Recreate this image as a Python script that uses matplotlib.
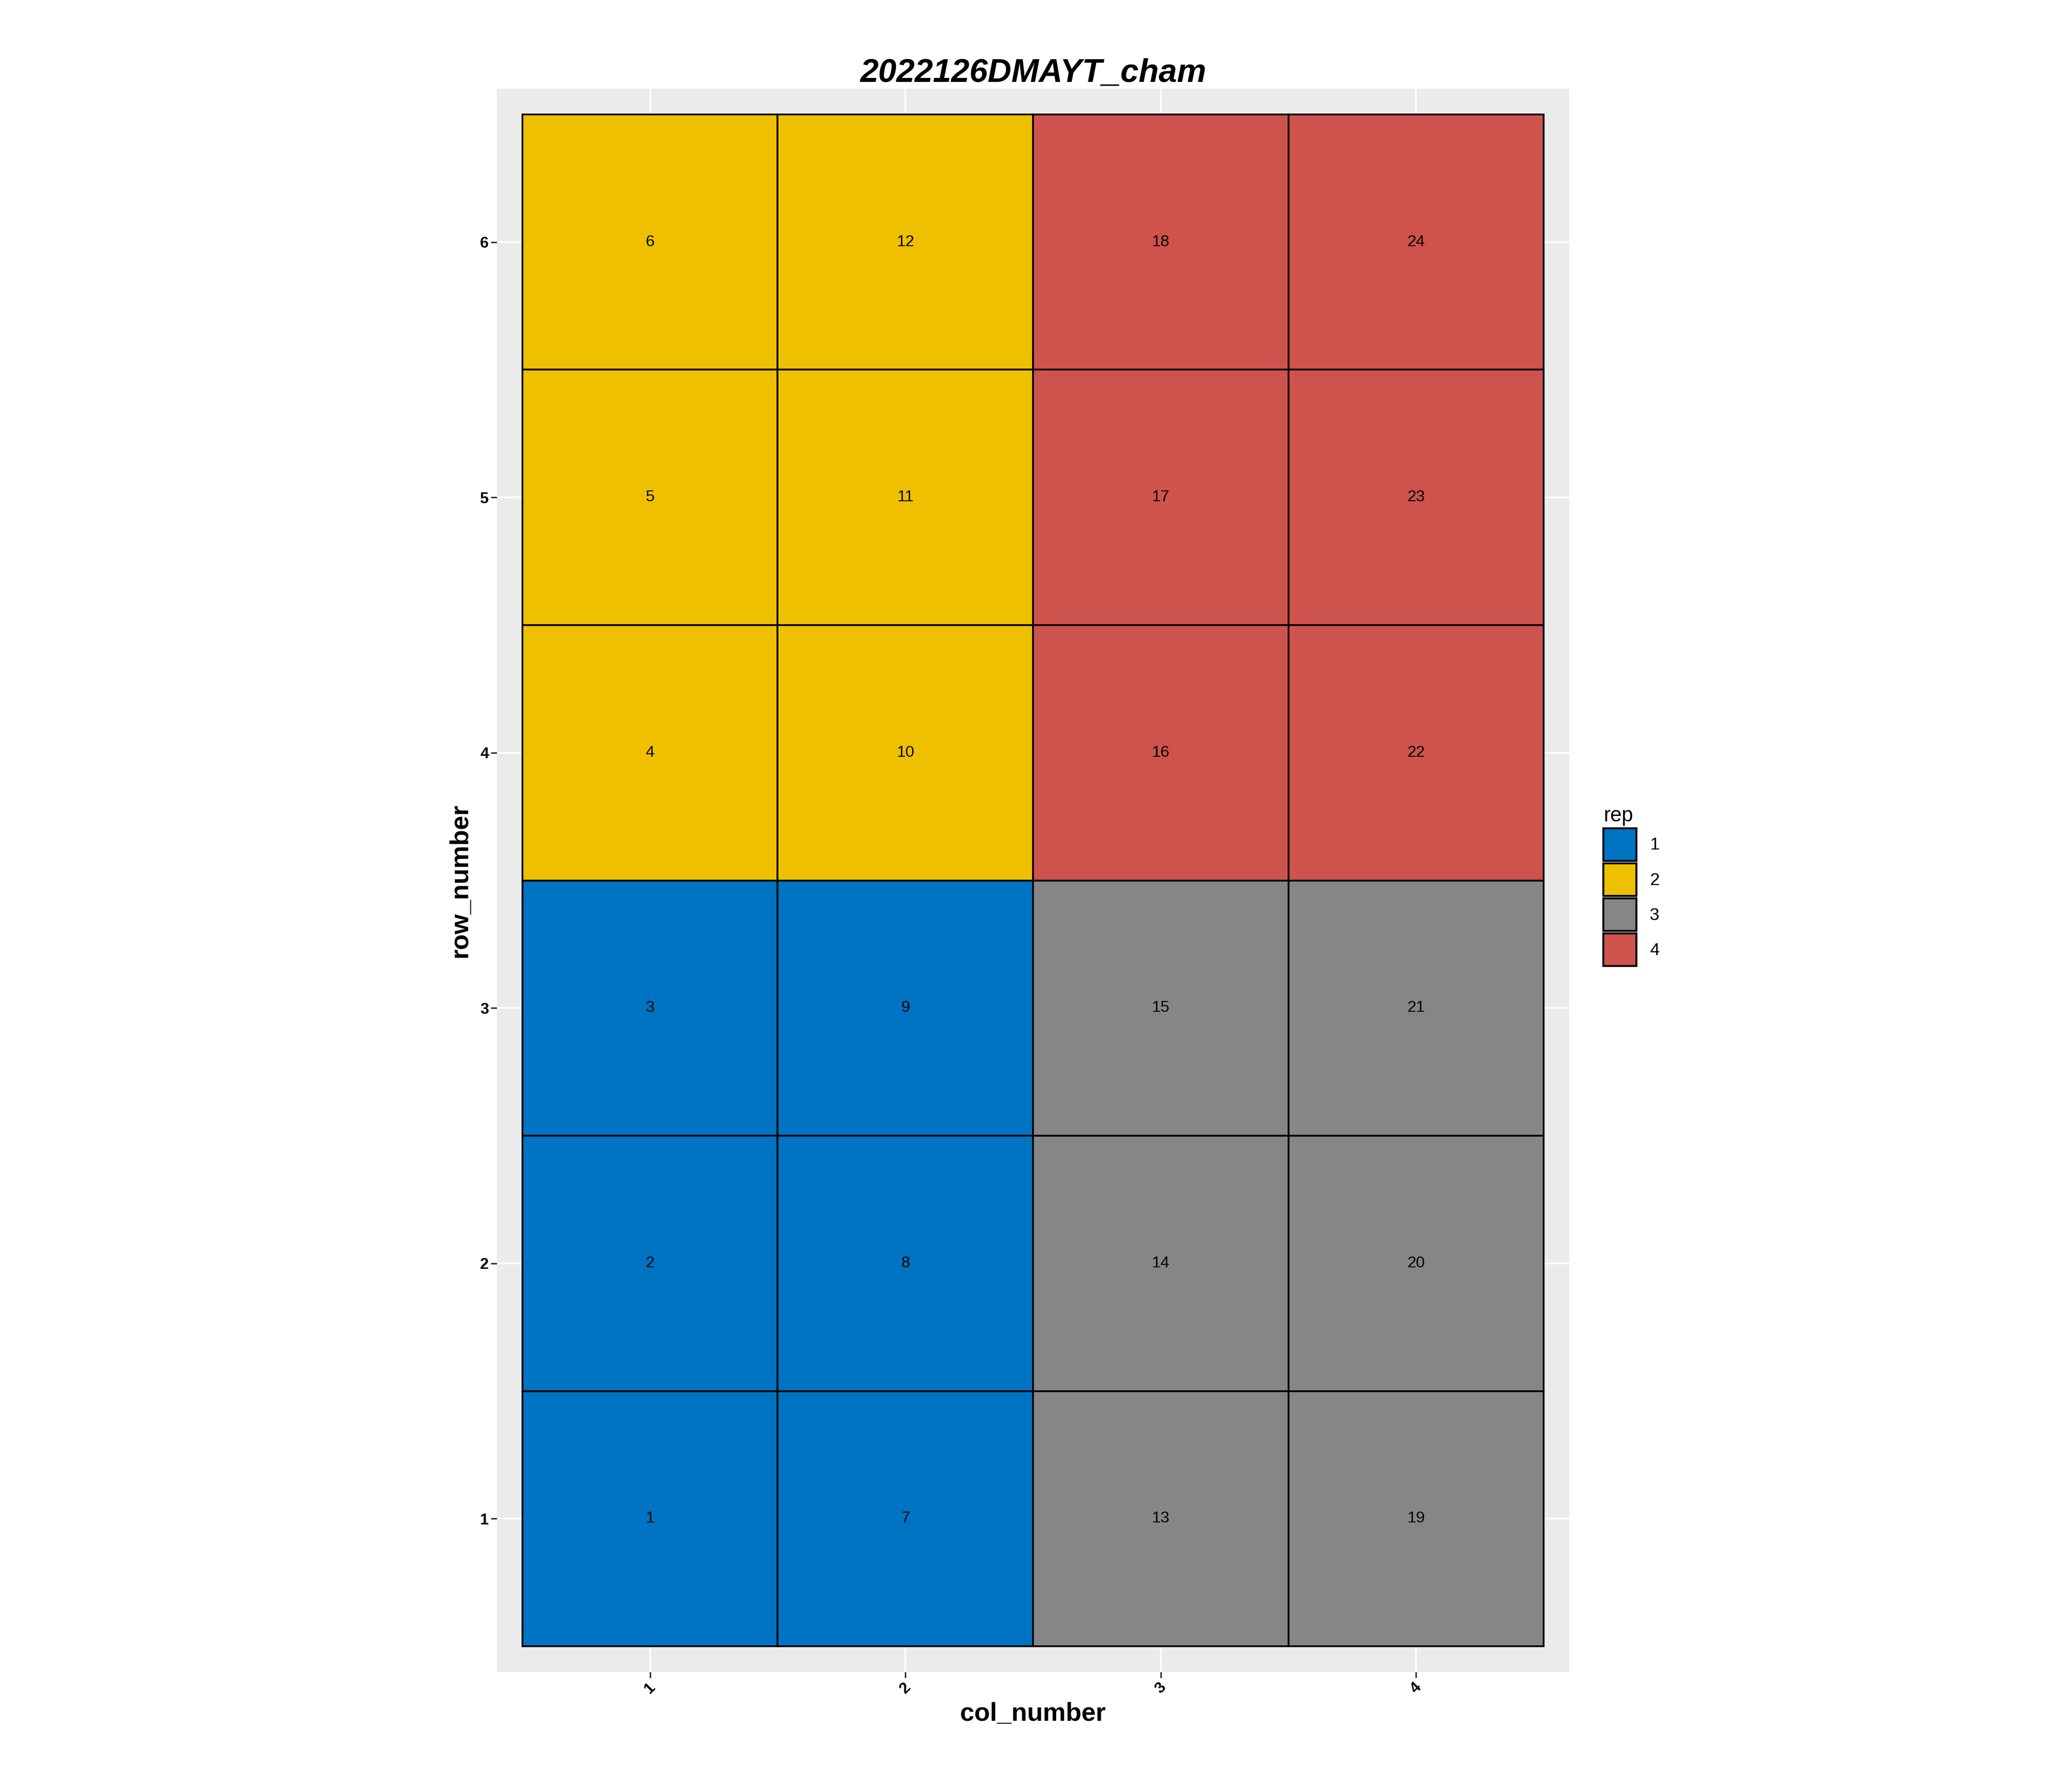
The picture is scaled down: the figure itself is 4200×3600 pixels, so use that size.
import matplotlib
matplotlib.use("Agg")
import matplotlib.pyplot as plt
from matplotlib.patches import Patch

plt.rcParams['font.family'] = ['Liberation Sans', 'DejaVu Sans']

# ---- data ----
plot_id = [1, 2, 3, 4, 5, 6, 7, 8, 9, 10, 11, 12,
           13, 14, 15, 16, 17, 18, 19, 20, 21, 22, 23, 24]
col_number = [1, 1, 1, 1, 1, 1, 2, 2, 2, 2, 2, 2,
              3, 3, 3, 3, 3, 3, 4, 4, 4, 4, 4, 4]
row_number = [1, 2, 3, 4, 5, 6, 1, 2, 3, 4, 5, 6,
              1, 2, 3, 4, 5, 6, 1, 2, 3, 4, 5, 6]
rep = [1, 1, 1, 2, 2, 2, 1, 1, 1, 2, 2, 2,
       3, 3, 3, 4, 4, 4, 3, 3, 3, 4, 4, 4]
rep_levels = [1, 2, 3, 4]
rep_colors = {1: '#0073C2', 2: '#EFC000', 3: '#868686', 4: '#CD534C'}
x_ticks = [1, 2, 3, 4]
y_ticks = [1, 2, 3, 4, 5, 6]
title = '2022126DMAYT_cham'

# ---- figure ----
W, H = 4200, 3600
dpi = 300
fig = plt.figure(figsize=(W / dpi, H / dpi), dpi=dpi)
px = 72 / dpi  # points per pixel

left, right, top, bottom = 1007, 3181, 180, 3389
ax = fig.add_axes([left / W, 1 - bottom / H, (right - left) / W, (bottom - top) / H])
ax.set_facecolor('#EBEBEB')
for s in ax.spines.values():
    s.set_visible(False)

ax.set_xlim(0.4, 4.6)
ax.set_ylim(0.4, 6.6)
ax.set_axisbelow(True)
ax.grid(True, which='major', color='white', linewidth=3.5 * px)

ax.bar([c for c in col_number], [1.0] * len(plot_id), width=1.0,
       bottom=[r - 0.5 for r in row_number],
       color=[rep_colors[r] for r in rep], edgecolor='black',
       linewidth=3.5 * px, zorder=2)

for pid, c, r in zip(plot_id, col_number, row_number):
    ax.text(c, r, str(pid), ha='center', va='center', fontsize=7.8,
            color='black', zorder=3)

ax.set_xticks(x_ticks)
ax.set_yticks(y_ticks)
ax.set_xticklabels([str(t) for t in x_ticks], rotation=45, fontsize=7.6,
                   fontweight='bold', ha='center')
ax.set_yticklabels([str(t) for t in y_ticks], fontsize=7.6, fontweight='bold')
ax.tick_params(axis='both', length=12 * px, width=3 * px, color='#333333',
               pad=1.0, labelcolor='black')

ax.set_xlabel('col_number', fontsize=12.5, fontweight='bold')
ax.xaxis.set_label_coords(0.5, ((H - 3488) / H - (1 - bottom / H)) / ((bottom - top) / H))
ax.xaxis.label.set_va('baseline')

ax.set_ylabel('row_number', fontsize=12.5, fontweight='bold',
              rotation=90, rotation_mode='anchor', ha='center', va='baseline')
ax.yaxis.set_label_coords((947 - left) / (right - left), 0.5)

ax.set_title(title, fontsize=16, fontweight='bold', fontstyle='italic',
             pad=5 * px)

handles = [Patch(facecolor=rep_colors[r], edgecolor='black', linewidth=4 * px)
           for r in rep_levels]
leg = fig.legend(handles, [str(r) for r in rep_levels], title='rep',
                 loc='lower left', bbox_to_anchor=(3250 / W, 1 - 1958 / H),
                 frameon=False, fontsize=8.4, title_fontsize=10,
                 handlelength=1.9, handleheight=2.53, labelspacing=0.14,
                 handletextpad=0.79, borderpad=0, borderaxespad=0,
                 alignment='left')

fig.savefig('out.png', dpi=dpi, facecolor='white')
